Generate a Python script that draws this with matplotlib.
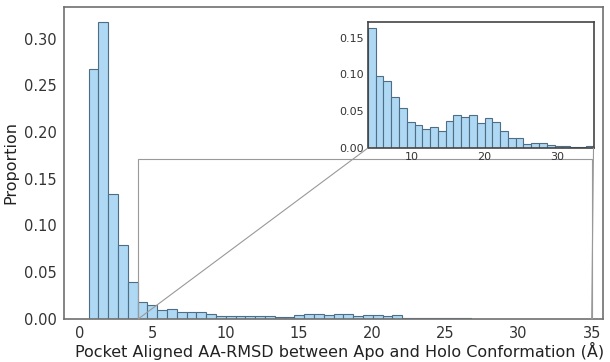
import numpy as np
import matplotlib
matplotlib.use("Agg")
import matplotlib.pyplot as plt
from matplotlib.patches import Rectangle, ConnectionPatch

# proportion per bin, full range (50 equal bins)
main_lo, main_hi = 0.6, 34.1
main_props = [0.267, 0.318, 0.134, 0.079, 0.039, 0.018, 0.015, 0.0093, 0.0104, 0.0078,
              0.0072, 0.0072, 0.005, 0.0035, 0.0035, 0.003, 0.003, 0.0028, 0.0028, 0.0025,
              0.0025, 0.0045, 0.005, 0.005, 0.004, 0.005, 0.005, 0.003, 0.0047, 0.004,
              0.003, 0.004, 0.0015, 0.0015, 0.0012, 0.001, 0.0008, 0.0006, 0.0005, 0.0004,
              0.0003, 0.0003, 0.0002, 0.0002, 0.0001, 0.0001, 0.0001, 0.0001, 0.0, 0.0001]

# proportion per bin for the tail (RMSD > 4 A, 29 equal bins)
tail_lo, tail_hi = 4.0, 35.0
tail_props = [0.163, 0.0985, 0.0908, 0.070, 0.055, 0.035, 0.0316, 0.026, 0.029, 0.023,
              0.0366, 0.045, 0.0426, 0.045, 0.0334, 0.041, 0.0348, 0.0234, 0.0132, 0.0136,
              0.0055, 0.0063, 0.0073, 0.0041, 0.0028, 0.0028, 0.0014, 0.0014, 0.0022]

main_ticks = [0, 5, 10, 15, 20, 25, 30, 35]
main_yticks = [0.0, 0.05, 0.10, 0.15, 0.20, 0.25, 0.30]
tail_ticks = [10, 20, 30]
tail_yticks = [0.0, 0.05, 0.10, 0.15]

fill = "#aed8f3"
edge = "#4f6d84"
zoom_col = "#999999"

fig = plt.figure(figsize=(6.1, 3.62), dpi=100)
ax = fig.add_axes([0.105, 0.119, 0.8835, 0.862])

edges = np.linspace(main_lo, main_hi, len(main_props) + 1)
ax.hist(edges[:-1], bins=edges, weights=main_props, color=fill, edgecolor=edge, linewidth=0.8)
ax.set_xticks(main_ticks)
ax.set_yticks(main_yticks)
ax.yaxis.set_major_formatter(matplotlib.ticker.FormatStrFormatter("%.2f"))
ax.tick_params(length=0, labelsize=10.5, colors="#333333", pad=5)
ax.set_xlabel("Pocket Aligned AA-RMSD between Apo and Holo Conformation (Å)",
              fontsize=11.5, color="#222222", labelpad=1)
ax.xaxis.label.set_x(0.512)
ax.set_ylabel("Proportion", fontsize=11.5, color="#222222", labelpad=4)
for s in ax.spines.values():
    s.set_color("#707070")
    s.set_linewidth(1.2)

# zoomed view of the long tail
axins = fig.add_axes([0.603, 0.591, 0.370, 0.348])
tedges = np.linspace(tail_lo, tail_hi, len(tail_props) + 1)
axins.hist(tedges[:-1], bins=tedges, weights=tail_props, color=fill, edgecolor=edge, linewidth=0.8)
axins.set_xlim(tail_lo, tail_hi)
axins.set_xticks(tail_ticks)
axins.set_yticks(tail_yticks)
axins.yaxis.set_major_formatter(matplotlib.ticker.FormatStrFormatter("%.2f"))
axins.tick_params(length=0, labelsize=8, colors="#333333", pad=3)
for s in axins.spines.values():
    s.set_color("#444444")
    s.set_linewidth(1.2)

# zoom box on the main axes plus lines to the inset's lower corners
y_top = axins.get_ylim()[1]
ax.add_patch(Rectangle((tail_lo, 0), tail_hi - tail_lo, y_top, fill=False,
                       edgecolor=zoom_col, linewidth=0.8, zorder=4))
for xc in (tail_lo, tail_hi):
    fig.add_artist(ConnectionPatch(xyA=(xc, 0), coordsA=ax.transData,
                                   xyB=(xc, 0), coordsB=axins.transData,
                                   color=zoom_col, linewidth=0.8, zorder=4))

fig.savefig("out.png", dpi=100)
